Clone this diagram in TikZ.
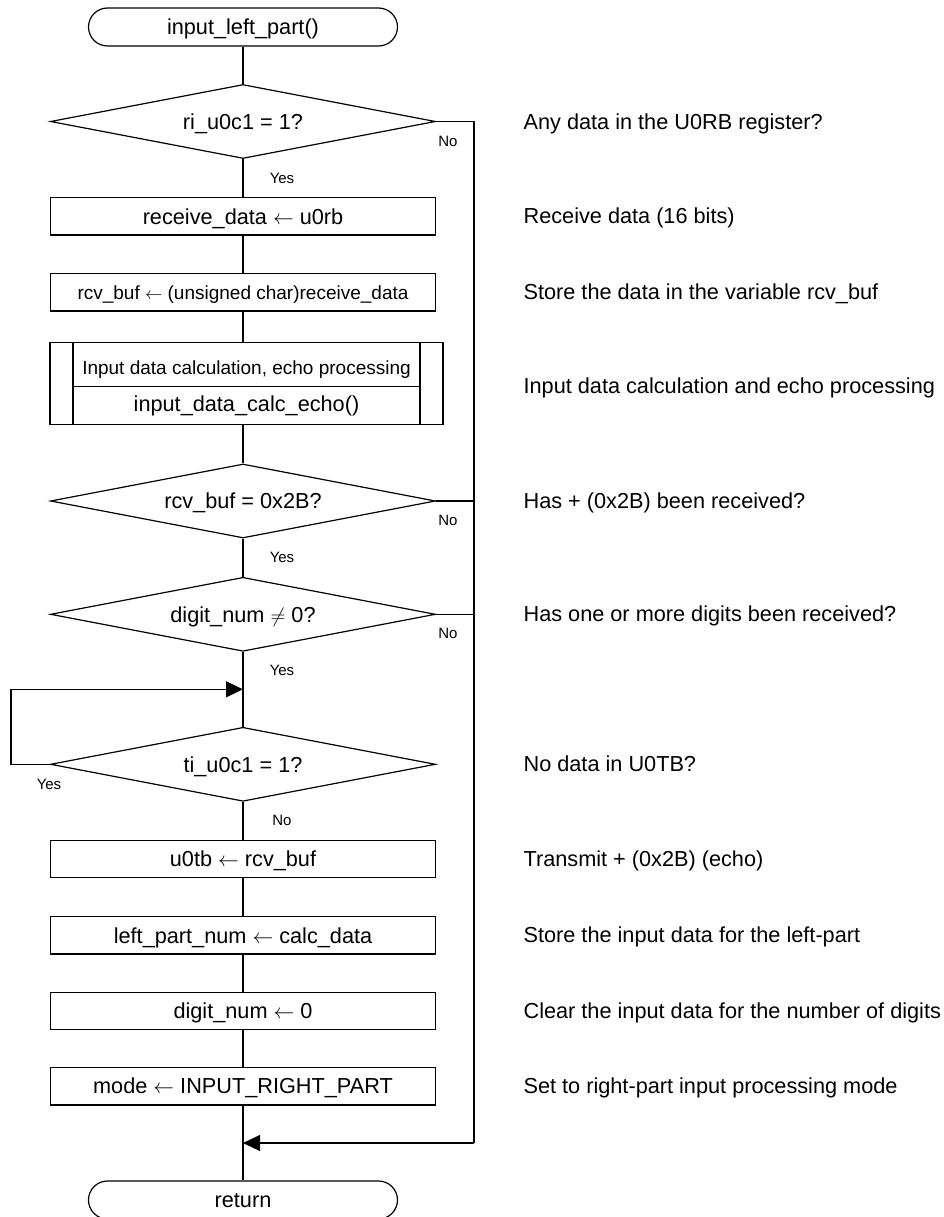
\documentclass[tikz,border=0pt]{standalone}
\usepackage{fontspec}
\setmainfont{Liberation Sans}
\usetikzlibrary{shapes.geometric,shapes.misc,arrows.meta}
\newcommand{\bigf}{\fontsize{21.7pt}{24pt}\selectfont}
\newcommand{\smallf}{\fontsize{19pt}{22pt}\selectfont}
\newcommand{\lblf}{\fontsize{15pt}{18pt}\selectfont}
\tikzset{
  every path/.style={line width=1.2pt},
  bigtext/.style={font=\bigf, text height=15.5pt, text depth=0pt},
  smalltext/.style={font=\smallf, text height=13.6pt, text depth=0pt},
  lbltext/.style={font=\lblf, text height=10.7pt, text depth=0pt},
  procbox/.style={draw, line width=1.2pt, rectangle, minimum width=385pt, minimum height=37.5pt, inner sep=0pt, bigtext},
  termbox/.style={draw, line width=1.2pt, rounded rectangle, minimum width=309pt, minimum height=38pt, inner sep=0pt, bigtext},
  decbox/.style={draw, line width=1.2pt, diamond, aspect=5.2, minimum width=385pt, minimum height=74pt, inner sep=0pt, bigtext},
  subframe/.style={draw, line width=1.2pt, rectangle, minimum width=393pt, minimum height=82pt, inner sep=0pt},
  note/.style={anchor=west, inner sep=0pt, bigtext},
  lbl/.style={inner sep=0pt, lbltext},
  arr/.style={-{Triangle[length=17pt,width=16pt]}},
}
\begin{document}
\begin{tikzpicture}[x=1pt,y=-1pt]
\useasboundingbox (0,0) rectangle (944,1217);

% nodes
\node[termbox] (start) at (243,27) {input\_left\_part()};
\node[decbox] (d1) at (243,121.5) {ri\_u0c1 = 1?};
\node[procbox] (b1) at (243,216.3) {receive\_data $\leftarrow$ u0rb};
\node[procbox, smalltext] (b2) at (243,292.2) {rcv\_buf $\leftarrow$ (unsigned char)receive\_data};
\node[subframe] (sub) at (246.5,383.3) {\phantom{x}};
\draw (73,342.3) -- (73,424.3);
\draw (420,342.3) -- (420,424.3);
\draw (73,386.5) -- (420,386.5);
\node[inner sep=0pt, smalltext] (subt) at (246.5,367.5) {Input data calculation, echo processing};
\node[inner sep=0pt, bigtext] (subb) at (246.5,403.5) {input\_data\_calc\_echo()};
\node[decbox] (d2) at (243,501) {rcv\_buf = 0x2B?};
\node[decbox] (d3) at (243,614.3) {digit\_num $\neq$ 0?};
\node[decbox] (d4) at (243,764.3) {ti\_u0c1 = 1?};
\node[procbox] (b5) at (243,859) {u0tb $\leftarrow$ rcv\_buf};
\node[procbox] (b6) at (243,935.3) {left\_part\_num $\leftarrow$ calc\_data};
\node[procbox] (b7) at (243,1011) {digit\_num $\leftarrow$ 0};
\node[procbox] (b8) at (243,1086.2) {mode $\leftarrow$ INPUT\_RIGHT\_PART};
\node[termbox] (ret) at (243,1200) {return};

% coordinates
\coordinate (r1) at (474,121.5);
\coordinate (r2) at (474,501);
\coordinate (r3) at (474,614.3);
\coordinate (rb) at (474,1143);
\coordinate (mg) at (243,1143);
\coordinate (lp) at (243,689.3);
\coordinate (ll) at (11,764.3);
\coordinate (lt) at (11,689.3);

% connectors
\draw (start.south) -- (d1.north);
\draw (d1.south) -- (b1.north);
\draw (b1.south) -- (b2.north);
\draw (b2.south) -- (b2.south |- sub.north);
\draw (d2.north |- sub.south) -- (d2.north);
\draw (d2.south) -- (d3.north);
\draw (d3.south) -- (d4.north);
\draw (d4.south) -- (b5.north);
\draw (b5.south) -- (b6.north);
\draw (b6.south) -- (b7.north);
\draw (b7.south) -- (b8.north);
\draw (b8.south) -- (ret.north);
\draw[arr] (d4.west) -- (ll) -- (lt) -- (lp);
\draw (d1.east) -- (r1) -- (rb);
\draw[arr] (rb) -- (mg);
\draw (d2.east) -- (r2);
\draw (d3.east) -- (r3);

% yes/no labels
\node[lbl] (n1) at (448,141) {No};
\node[lbl] (y1) at (282,178) {Yes};
\node[lbl] (n2) at (448,520) {No};
\node[lbl] (y2) at (282,556.7) {Yes};
\node[lbl] (n3) at (448,632.7) {No};
\node[lbl] (y3) at (282,670) {Yes};
\node[lbl] (y4) at (49,784) {Yes};
\node[lbl] (n4) at (282,820) {No};

% notes
\node[note] (t1) at (523,121.7) {Any data in the U0RB register?};
\node[note] (t2) at (523,216) {Receive data (16 bits)};
\node[note] (t3) at (523,292) {Store the data in the variable rcv\_buf};
\node[note] (t4) at (523,386) {Input data calculation and echo processing};
\node[note] (t5) at (523,501) {Has + (0x2B) been received?};
\node[note] (t6) at (523,614) {Has one or more digits been received?};
\node[note] (t7) at (523,764) {No data in U0TB?};
\node[note] (t8) at (523,858.5) {Transmit + (0x2B) (echo)};
\node[note] (t9) at (523,935) {Store the input data for the left-part};
\node[note] (t10) at (523,1011) {Clear the input data for the number of digits};
\node[note] (t11) at (523,1086) {Set to right-part input processing mode};
\end{tikzpicture}
\end{document}
